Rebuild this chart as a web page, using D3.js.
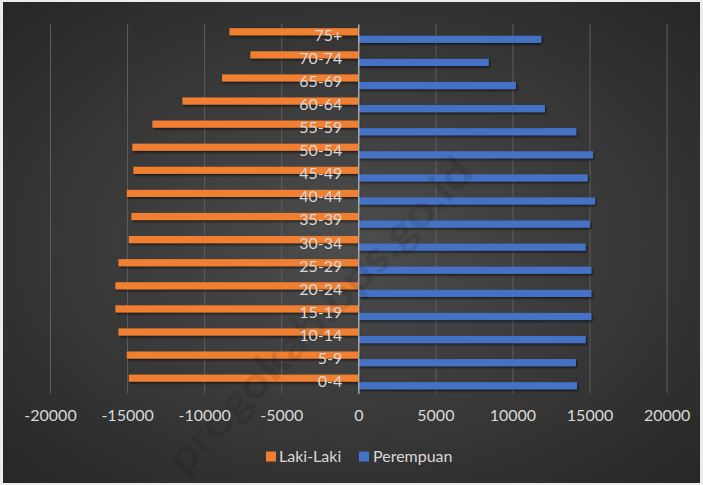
<!DOCTYPE html>
<html>
<head>
<meta charset="utf-8">
<script src="https://cdn.jsdelivr.net/npm/d3@7"></script>
<style>
  html, body { margin: 0; padding: 0; background: #e8e8e8; }
  svg { display: block; }
  text { font-family: Lato, "Open Sans", sans-serif; }
</style>
</head>
<body>
<svg id="chart" width="703" height="485"></svg>
<script>
// ---- data ----
const categories = ["75+", "70-74", "65-69", "60-64", "55-59", "50-54", "45-49", "40-44",
                    "35-39", "30-34", "25-29", "20-24", "15-19", "10-14", "5-9", "0-4"];
const lakiLaki = [-8360, -7000, -8840, -11410, -13360, -14660, -14590, -15020,
                  -14720, -14890, -15560, -15760, -15760, -15560, -15020, -14890];
const perempuan = [11870, 8460, 10230, 12110, 14140, 15230, 14880, 15360,
                   15030, 14750, 15120, 15120, 15120, 14750, 14120, 14190];
const xTicks = [-20000, -15000, -10000, -5000, 0, 5000, 10000, 15000, 20000];
const xTickLabels = ["-20000", "-15000", "-10000", "-5000", "0", "5000", "10000", "15000", "20000"];
const seriesNames = ["Laki-Laki", "Perempuan"];
const seriesColors = ["#F07F31", "#4472C4"];

// ---- layout ----
const W = 703, H = 485;
const plot = { left: 50, right: 666.6, top: 24, bottom: 393.5 };

const svg = d3.select("#chart");
const defs = svg.append("defs");

const grad = defs.append("radialGradient").attr("id", "bg")
  .attr("cx", "50%").attr("cy", "50%").attr("r", "75%");
grad.append("stop").attr("offset", "0%").attr("stop-color", "#4d4d4d");
grad.append("stop").attr("offset", "100%").attr("stop-color", "#242424");

const shadow = defs.append("filter").attr("id", "shadow")
  .attr("x", "-5%").attr("y", "-50%").attr("width", "115%").attr("height", "250%");
shadow.append("feDropShadow").attr("dx", 1.2).attr("dy", 1.6).attr("stdDeviation", 1)
  .attr("flood-color", "#000").attr("flood-opacity", 0.6);

svg.append("rect").attr("width", W).attr("height", H).attr("fill", "#ececec");
svg.append("rect").attr("x", 3).attr("y", 2).attr("width", W - 6).attr("height", H - 4)
  .attr("fill", "url(#bg)");

// ---- scales ----
const x = d3.scaleLinear().domain([-20000, 20000]).range([plot.left, plot.right]);
const y = d3.scaleBand().domain(categories).range([plot.top, plot.bottom]).padding(0);
const ySub = d3.scaleBand().domain(seriesNames).range([0, y.bandwidth()])
  .paddingInner(0.06).paddingOuter(0.55);

// ---- gridlines ----
svg.append("g")
  .attr("transform", `translate(0,${plot.bottom})`)
  .call(d3.axisBottom(x).tickValues(xTicks).tickSize(-(plot.bottom - plot.top)).tickFormat(""))
  .call(g => g.select(".domain").remove())
  .call(g => g.selectAll(".tick line").attr("stroke", "#5e5e5e").attr("stroke-width", 1));

// ---- bars ----
const rows = categories.map((c, i) => ({ cat: c, values: [lakiLaki[i], perempuan[i]] }));
const barG = svg.append("g").attr("filter", "url(#shadow)");
rows.forEach(r => {
  seriesNames.forEach((s, j) => {
    const v = r.values[j];
    barG.append("rect")
      .attr("x", x(Math.min(0, v)))
      .attr("width", Math.abs(x(v) - x(0)))
      .attr("y", y(r.cat) + ySub(s))
      .attr("height", ySub.bandwidth())
      .attr("fill", seriesColors[j]);
  });
});

// ---- watermark ----
svg.append("text")
  .attr("transform", "translate(322,318) rotate(-46)")
  .attr("text-anchor", "middle")
  .attr("dominant-baseline", "middle")
  .attr("font-size", 44).attr("font-weight", "bold")
  .attr("textLength", 420).attr("lengthAdjust", "spacingAndGlyphs")
  .attr("fill", "#000").attr("fill-opacity", 0.11)
  .text("progokab.bps.go.id");

// ---- category axis (at zero) ----
svg.append("g")
  .attr("transform", `translate(${x(0)},0)`)
  .call(d3.axisLeft(y).tickSize(0).tickPadding(16))
  .call(g => g.select(".domain").attr("stroke", "#b8b8b8").attr("stroke-width", 1.2))
  .call(g => g.selectAll(".tick text")
    .attr("fill", "#d9d9d9").attr("font-size", 16)
    .attr("font-family", "Lato, 'Open Sans', sans-serif"));

// ---- value axis ----
svg.append("g")
  .attr("transform", `translate(0,${plot.bottom})`)
  .call(d3.axisBottom(x).tickValues(xTicks).tickSize(0).tickPadding(16)
    .tickFormat((d, i) => xTickLabels[i]))
  .call(g => g.select(".domain").remove())
  .call(g => g.selectAll(".tick text")
    .attr("fill", "#d9d9d9").attr("font-size", 16)
    .attr("font-family", "Lato, 'Open Sans', sans-serif"));

// ---- legend ----
const legendItems = [
  { name: seriesNames[0], color: seriesColors[0], sx: 266, tx: 279 },
  { name: seriesNames[1], color: seriesColors[1], sx: 359, tx: 373 }
];
const lg = svg.append("g");
legendItems.forEach(it => {
  lg.append("rect").attr("x", it.sx).attr("y", 451.5).attr("width", 10).attr("height", 10)
    .attr("fill", it.color);
  lg.append("text").attr("x", it.tx).attr("y", 461.5)
    .attr("fill", "#d9d9d9").attr("font-size", 16).text(it.name);
});
</script>
</body>
</html>
